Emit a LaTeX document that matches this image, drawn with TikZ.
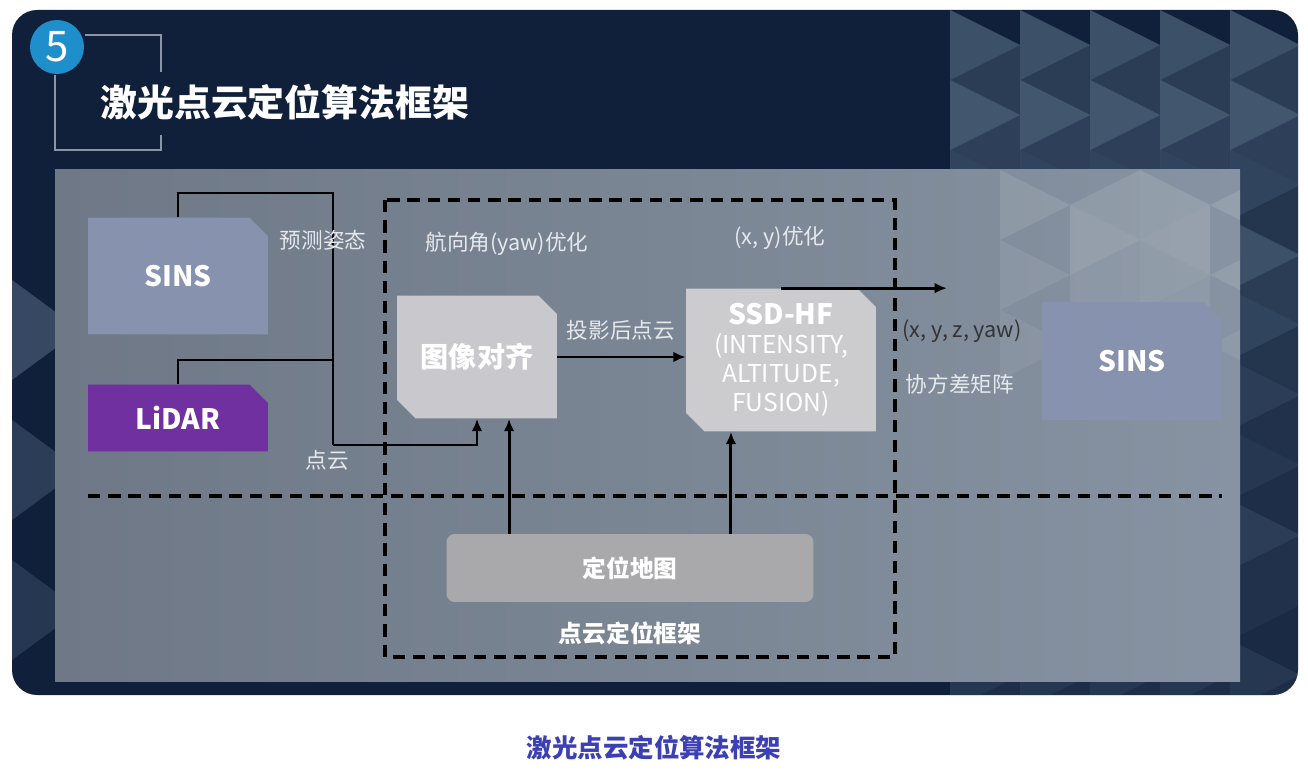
\documentclass[tikz,border=0pt]{standalone}
\usepackage{fontspec}
\setmainfont{Noto Sans CJK SC}
\usetikzlibrary{arrows.meta, positioning, shapes.misc}

\definecolor{slidebg}{HTML}{11203A}
\definecolor{slidetile}{HTML}{7E98AE}
\definecolor{panelL}{HTML}{6E7887}
\definecolor{panelR}{HTML}{8793A2}
\definecolor{sinsblue}{HTML}{8692AE}
\definecolor{lidarpurple}{HTML}{7030A0}
\definecolor{aligngray}{HTML}{C9C9CD}
\definecolor{mapgray}{HTML}{A9A9AC}
\definecolor{numblue}{HTML}{1F8FCB}
\definecolor{bracketgray}{HTML}{8A96A5}
\definecolor{labelwhite}{HTML}{E6E8EC}
\definecolor{captionblue}{HTML}{3C40B4}

\begin{document}
\begin{tikzpicture}[
    x=0.02cm, y=-0.02cm,
    >={Latex[length=7pt,width=6pt]},
    block/.style={chamfered rectangle, chamfered rectangle corners={north east},
        chamfered rectangle xsep=0.2cm, chamfered rectangle ysep=0.17cm,
        inner sep=0pt, text=white, font=\bfseries\fontsize{16}{19}\selectfont},
    tag/.style={text=labelwhite, font=\fontsize{12.3}{14}\selectfont},
    wire/.style={line width=1.7pt, black},
    frame/.style={line width=2pt, black, dash pattern=on 7pt off 4.5pt}
]
\useasboundingbox (0,0) rectangle (1308,770);
\fill[white] (0,0) rectangle (1308,770);

% ---- slide background ----
\fill[slidebg, rounded corners=0.5cm] (12,10) rectangle (1298,695);
\begin{scope}
    \clip[rounded corners=0.5cm] (12,10) rectangle (1298,695);
    \foreach \cx in {950,1020,...,1300} {
        \foreach \cy/\op in {10/0.4,80/0.45,150/0.3,220/0.4,290/0.3,360/0.25,430/0.2,500/0.25,570/0.15,640/0.2} {
            \fill[slidetile, opacity=\op] (\cx,\cy) -- (\cx+70,\cy+35) -- (\cx,\cy+70) -- cycle;
            \fill[slidetile, opacity=\op*0.6] (\cx+70,\cy+35) -- (\cx+70,\cy+105) -- (\cx,\cy+70) -- cycle;
        }
    }
    \foreach \cy/\op in {280/0.35,420/0.25,560/0.2} {
        \fill[slidetile, opacity=\op] (12,\cy) -- (80,\cy+50) -- (12,\cy+100) -- cycle;
    }
\end{scope}

% ---- title ----
\node[circle, fill=numblue, minimum size=1.08cm, inner sep=0pt, text=white,
    font=\fontsize{24}{24}\selectfont] (num) at (57,47) {5};
\draw[bracketgray, line width=1.1pt] (85,35) -- (161,35) -- (161,72);
\draw[bracketgray, line width=1.1pt] (55,75) -- (55,150) -- (161,150) -- (161,135);
\node[anchor=west, inner sep=0pt, text=white, font=\bfseries\fontsize{21}{24}\selectfont]
    (title) at (100,102) {激光点云定位算法框架};

% ---- panel ----
\fill[left color=panelL, right color=panelR] (55,170) rectangle (1240,681);
\begin{scope}
    \clip (55,170) rectangle (1240,681);
    \foreach \cx/\cy/\op in {1000/170/0.10,1070/205/0.14,1140/170/0.12,1000/240/0.08,
        1140/240/0.10,1070/275/0.08,1000/310/0.06,1140/310/0.07} {
        \fill[white, opacity=\op] (\cx,\cy) -- (\cx+70,\cy+35) -- (\cx,\cy+70) -- cycle;
        \fill[white, opacity=\op] (\cx+70,\cy+35) -- (\cx+140,\cy) -- (\cx+140,\cy+70) -- cycle;
    }
\end{scope}

% ---- blocks ----
\node[block, fill=sinsblue, minimum width=3.6cm, minimum height=2.34cm] (sinsL) at (178,276) {SINS};
\node[block, fill=lidarpurple, minimum width=3.6cm, minimum height=1.34cm] (lidar) at (178,418) {LiDAR};
\node[block, fill=aligngray, chamfered rectangle corners={north east, south west},
    minimum width=3.2cm, minimum height=2.46cm] (align) at (477,357) {图像对齐};
\node[block, fill=aligngray!95!white, chamfered rectangle corners={north east, south west},
    minimum width=3.8cm, minimum height=2.86cm, align=center,
    font=\fontsize{14}{16.5}\selectfont] (ssd) at (781,360)
    {{\bfseries\fontsize{16}{19}\selectfont SSD-HF}\\(INTENSITY,\\ALTITUDE,\\FUSION)};
\node[block, fill=sinsblue, minimum width=3.6cm, minimum height=2.36cm] (sinsR) at (1132,361) {SINS};
\node[rounded corners=0.16cm, fill=mapgray, minimum width=7.34cm, minimum height=1.36cm,
    text=white, font=\bfseries\fontsize{13.5}{16}\selectfont] (map) at (630,568) {定位地图};

% ---- dashed frame ----
\draw[frame] (385,200) rectangle (895,657);
\draw[frame] (88,496) -- (1222,496);

% ---- connectors ----
\coordinate (topbend) at (333,193);
\coordinate (botbend) at (333,445);
\coordinate (ljoin) at (333,360);
\coordinate (outend) at (947,287);
\draw[wire] (sinsL.north) |- (topbend) -- (botbend);
\draw[wire] (lidar.north) |- (ljoin);
\draw[wire, ->] (botbend) -| (align.south);
\draw[wire, ->] (align.east) -- (align.east -| ssd.west);
\draw[wire, ->] (ssd.north) -- (ssd.north -| outend);
\draw[wire, ->] ([xshift=-2.42cm]map.north) -- ([xshift=-2.42cm]map.north |- align.south);
\draw[wire, ->] ([xshift=2.02cm]map.north) -- ([xshift=2.02cm]map.north |- ssd.south);

% ---- labels ----
\node[tag] (predpose) at (323,240) {预测姿态};
\node[tag] (cloud) at (327,460) {点云};
\node[tag] (yawopt) at (507,244) {航向角(yaw)优化};
\node[tag] (xyopt) at (780,238) {(x, y)优化};
\node[tag] (proj) at (621,330) {投影后点云};
\node[tag, text=black!80] (pose) at (962,331) {(x, y, z, yaw)};
\node[tag] (cov) at (960,384) {协方差矩阵};
\node[text=white, font=\bfseries\fontsize{13.5}{16}\selectfont] (frametitle) at (630,633) {点云定位框架};

% ---- caption ----
\node[text=captionblue, font=\bfseries\fontsize{14.5}{17}\selectfont] (caption) at (654,748) {激光点云定位算法框架};
\end{tikzpicture}
\end{document}
